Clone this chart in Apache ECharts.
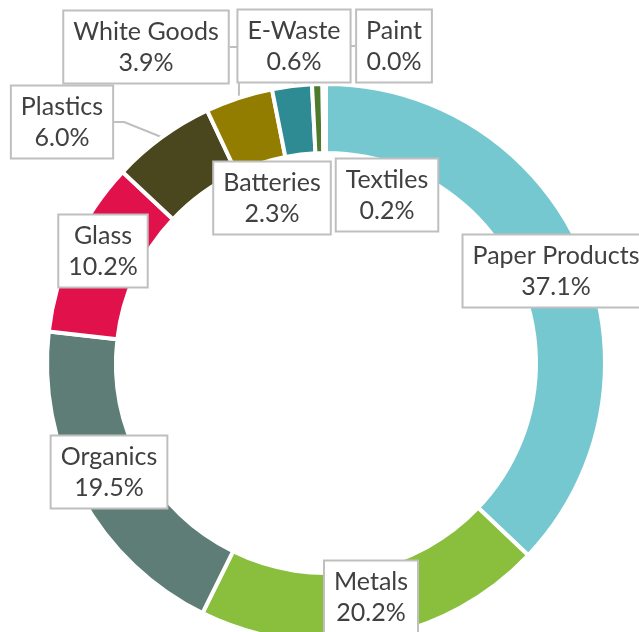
<!DOCTYPE html>
<html>
<head>
<meta charset="utf-8">
<script src="https://cdn.jsdelivr.net/npm/echarts@6/dist/echarts.min.js"></script>
<style>
  html, body { margin: 0; padding: 0; background: #fff; }
  #chart { width: 639px; height: 632px; }
</style>
</head>
<body>
<div id="chart"></div>
<script>
// Waste composition by material type (percent of total)
const categories = ['Paper Products', 'Metals', 'Organics', 'Glass', 'Plastics',
                    'White Goods', 'Batteries', 'E-Waste', 'Textiles', 'Paint'];
const shares = [37.1, 20.2, 19.5, 10.2, 6.0, 3.9, 2.3, 0.6, 0.2, 0.0];

// Slice colours, in the same order as the categories
const palette = ['#76C8D0', '#8ABF3E', '#5F7D77', '#E1114B', '#4A461E',
                 '#937D00', '#2E8B94', '#4E7A2C', '#A0A0A0', '#C0C0C0'];

// Where each callout box sits (pixel centre) and whether it gets a leader line
const calloutPlacement = {
  'Paper Products': { x: 556, y: 271, line: false },
  'Metals':         { x: 371, y: 597, line: false },
  'Organics':       { x: 109, y: 472, line: false },
  'Glass':          { x: 103, y: 251, line: false },
  'Plastics':       { x: 62,  y: 122, line: true },
  'White Goods':    { x: 146, y: 47,  line: true },
  'Batteries':      { x: 272, y: 198, line: true },
  'E-Waste':        { x: 294, y: 46,  line: true },
  'Textiles':       { x: 387, y: 195, line: true },
  'Paint':          { x: 394, y: 46,  line: true }
};

const seriesData = categories.map((name, i) => ({
  name: name,
  value: shares[i],
  itemStyle: { color: palette[i] },
  labelLine: { show: calloutPlacement[name].line }
}));

const chart = echarts.init(document.getElementById('chart'), null, { renderer: 'canvas' });

chart.setOption({
  animation: false,
  backgroundColor: '#ffffff',
  series: [{
    type: 'pie',
    center: [326, 363],
    radius: [210, 279],
    startAngle: 90,
    clockwise: true,
    avoidLabelOverlap: false,
    minShowLabelAngle: 0,
    stillShowZeroSum: true,
    itemStyle: { borderColor: '#ffffff', borderWidth: 4 },
    label: {
      show: true,
      position: 'outside',
      formatter: p => p.name + '\n' + p.value.toFixed(1) + '%',
      fontFamily: 'Lato, "Noto Sans", sans-serif',
      fontSize: 25,
      lineHeight: 31,
      color: '#404040',
      align: 'center',
      backgroundColor: '#ffffff',
      borderColor: '#BFBFBF',
      borderWidth: 2,
      padding: [5, 9, 4, 9]
    },
    labelLine: {
      show: true,
      length: 10,
      length2: 10,
      lineStyle: { color: '#BFBFBF', width: 2 }
    },
    labelLayout: function (params) {
      const name = categories[params.dataIndex];
      const spot = calloutPlacement[name];
      return {
        x: spot.x,
        y: spot.y,
        align: 'center',
        verticalAlign: 'middle'
      };
    },
    data: seriesData
  }]
});
</script>
</body>
</html>
